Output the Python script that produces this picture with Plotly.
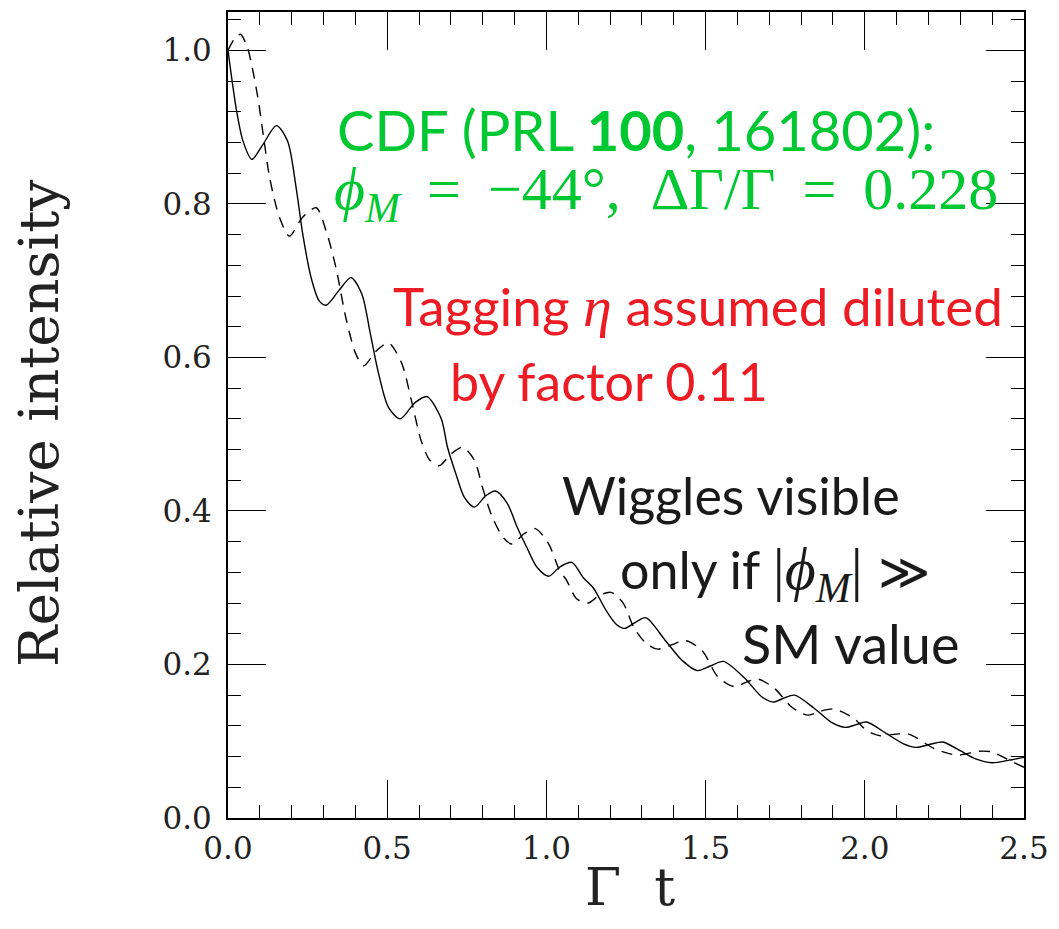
import plotly.graph_objects as go

# Solid curve (Gamma t, relative intensity)
gt_solid = [0.000, 0.027, 0.047, 0.075, 0.109, 0.152, 0.187, 0.214, 0.235, 0.261, 0.286, 0.308,
            0.348, 0.386, 0.420, 0.447, 0.473, 0.504, 0.541, 0.587, 0.625, 0.669, 0.690, 0.716,
            0.742, 0.774, 0.810, 0.840, 0.877, 0.908, 0.939, 0.970, 1.007, 1.042, 1.080, 1.116,
            1.147, 1.188, 1.220, 1.245, 1.280, 1.312, 1.374, 1.427, 1.474, 1.515, 1.556, 1.623,
            1.676, 1.712, 1.745, 1.779, 1.841, 1.894, 1.940, 1.975, 2.006, 2.068, 2.120, 2.161,
            2.205, 2.245, 2.298, 2.348, 2.400, 2.450, 2.500]
i_solid = [1.000, 0.921, 0.882, 0.858, 0.877, 0.902, 0.882, 0.821, 0.760, 0.704, 0.674, 0.668,
           0.687, 0.704, 0.683, 0.631, 0.579, 0.535, 0.520, 0.541, 0.549, 0.521, 0.482, 0.448,
           0.418, 0.405, 0.420, 0.426, 0.410, 0.379, 0.352, 0.327, 0.315, 0.327, 0.333, 0.313,
           0.300, 0.270, 0.252, 0.247, 0.255, 0.261, 0.231, 0.205, 0.192, 0.198, 0.204, 0.182,
           0.158, 0.151, 0.156, 0.160, 0.143, 0.125, 0.118, 0.122, 0.125, 0.110, 0.097, 0.092,
           0.096, 0.099, 0.088, 0.077, 0.072, 0.075, 0.079]

# Dashed curve
gt_dash = [0.000, 0.020, 0.039, 0.060, 0.074, 0.094, 0.109, 0.131, 0.162, 0.193, 0.233, 0.277,
           0.308, 0.339, 0.370, 0.401, 0.426, 0.467, 0.504, 0.545, 0.576, 0.607, 0.634, 0.664,
           0.700, 0.737, 0.774, 0.799, 0.830, 0.867, 0.892, 0.929, 0.965, 1.007, 1.042, 1.063,
           1.094, 1.131, 1.166, 1.203, 1.241, 1.275, 1.312, 1.349, 1.390, 1.437, 1.489, 1.540,
           1.592, 1.628, 1.664, 1.716, 1.769, 1.819, 1.860, 1.903, 1.965, 2.006, 2.049, 2.090,
           2.140, 2.220, 2.290, 2.360, 2.400, 2.450, 2.500]
i_dash = [1.000, 1.015, 1.021, 1.005, 0.982, 0.938, 0.895, 0.834, 0.782, 0.758, 0.782, 0.795,
          0.765, 0.717, 0.652, 0.605, 0.589, 0.609, 0.619, 0.593, 0.544, 0.491, 0.466, 0.459,
          0.474, 0.483, 0.466, 0.431, 0.392, 0.364, 0.357, 0.370, 0.377, 0.357, 0.322, 0.310,
          0.286, 0.280, 0.290, 0.294, 0.280, 0.248, 0.228, 0.220, 0.225, 0.231, 0.218, 0.183,
          0.171, 0.177, 0.181, 0.169, 0.145, 0.134, 0.139, 0.142, 0.130, 0.114, 0.107, 0.109,
          0.109, 0.090, 0.082, 0.087, 0.086, 0.076, 0.066]

x_ticks = [0.0, 0.5, 1.0, 1.5, 2.0, 2.5]
y_ticks = [0.0, 0.2, 0.4, 0.6, 0.8, 1.0]

W, H = 1059, 929
L, R, T, B = 228, 1032, 10, 818

def px(x):
    return (x - L) / (R - L)

def py(y):
    return (B - y) / (B - T)

GREEN = "rgb(0,200,50)"
RED = "rgb(237,28,36)"
INK = "#1a1a1a"
SANS = "Lato"
SERIF = "Liberation Serif"

fig = go.Figure()
fig.add_trace(go.Scatter(x=gt_solid, y=i_solid, mode="lines",
                         line=dict(color="black", width=1.4, shape="spline", smoothing=0.8),
                         showlegend=False, hoverinfo="skip"))
fig.add_trace(go.Scatter(x=gt_dash, y=i_dash, mode="lines",
                         line=dict(color="black", width=1.4, dash="11px,8px", shape="spline", smoothing=0.8),
                         showlegend=False, hoverinfo="skip"))

axis_common = dict(
    ticks="inside", ticklen=38, tickwidth=1.4, tickcolor="black",
    showline=True, linewidth=2, linecolor="black", mirror="ticks",
    showgrid=False, zeroline=False,
    tickfont=dict(family="DejaVu Serif", size=31, color="#222"),
)

fig.update_layout(
    width=W, height=H,
    margin=dict(l=L, r=W - R, t=T, b=H - B, pad=0),
    paper_bgcolor="white", plot_bgcolor="white",
    xaxis=dict(range=[0, 2.5], tickvals=x_ticks, ticktext=[f"{v:.1f}" for v in x_ticks],
               minor=dict(dtick=0.1, tick0=0, ticklen=13, ticks="inside", tickwidth=1.4,
                          tickcolor="black", showgrid=False),
               ticklabelstandoff=2, **axis_common),
    yaxis=dict(range=[0, 1.05], tickvals=y_ticks, ticktext=[f"{v:.1f}" for v in y_ticks],
               minor=dict(dtick=0.04, tick0=0, ticklen=13, ticks="inside", tickwidth=1.4,
                          tickcolor="black", showgrid=False),
               ticklabelstandoff=8, **axis_common),
)

ann = []
# axis titles
ann.append(dict(text="Relative intensity", x=px(37), y=py(422), xref="paper", yref="paper",
                textangle=-90, showarrow=False, xanchor="center", yanchor="middle",
                font=dict(family="DejaVu Serif", size=55, color="#222")))
ann.append(dict(text="Γ  t", x=px(634), y=py(887), xref="paper", yref="paper",
                showarrow=False, xanchor="center", yanchor="middle",
                font=dict(family="DejaVu Serif", size=52, color="#222")))

def label(text, x, y, color, family=SANS, size=52):
    ann.append(dict(text=text, x=px(x), y=py(y), xref="paper", yref="paper",
                    showarrow=False, xanchor="left", yanchor="middle",
                    font=dict(family=family, size=size, color=color)))

def span(s, family=SERIF, size=None):
    st = f"font-family:{family}"
    if size:
        st += f";font-size:{size}px"
    return f'<span style="{st}">{s}</span>'

TS = "\u2009"  # thin space for math spacing
label("CDF (PRL <b>100</b>, 161802):", 336, 128, GREEN, size=56)
label(f"<i>ϕ</i><sub><i>M</i></sub> {TS}={TS} −44°,  ΔΓ/Γ {TS}={TS} 0.228", 333, 192, GREEN,
      family=SERIF, size=60)
label("Tagging " + span("<i>η</i>", size=58) + " assumed diluted", 393, 305, RED, size=53)
label("by factor 0.11", 450, 380, RED)
label("Wiggles visible", 563, 494, INK)
label("only if " + span("|<i>ϕ</i><sub><i>M</i></sub>| ", size=60)
      + span("≫", family="DejaVu Serif", size=50), 622, 573, INK)
label("SM value", 745, 643, INK, size=54)

fig.update_layout(annotations=ann)
fig.write_html("out.html")
